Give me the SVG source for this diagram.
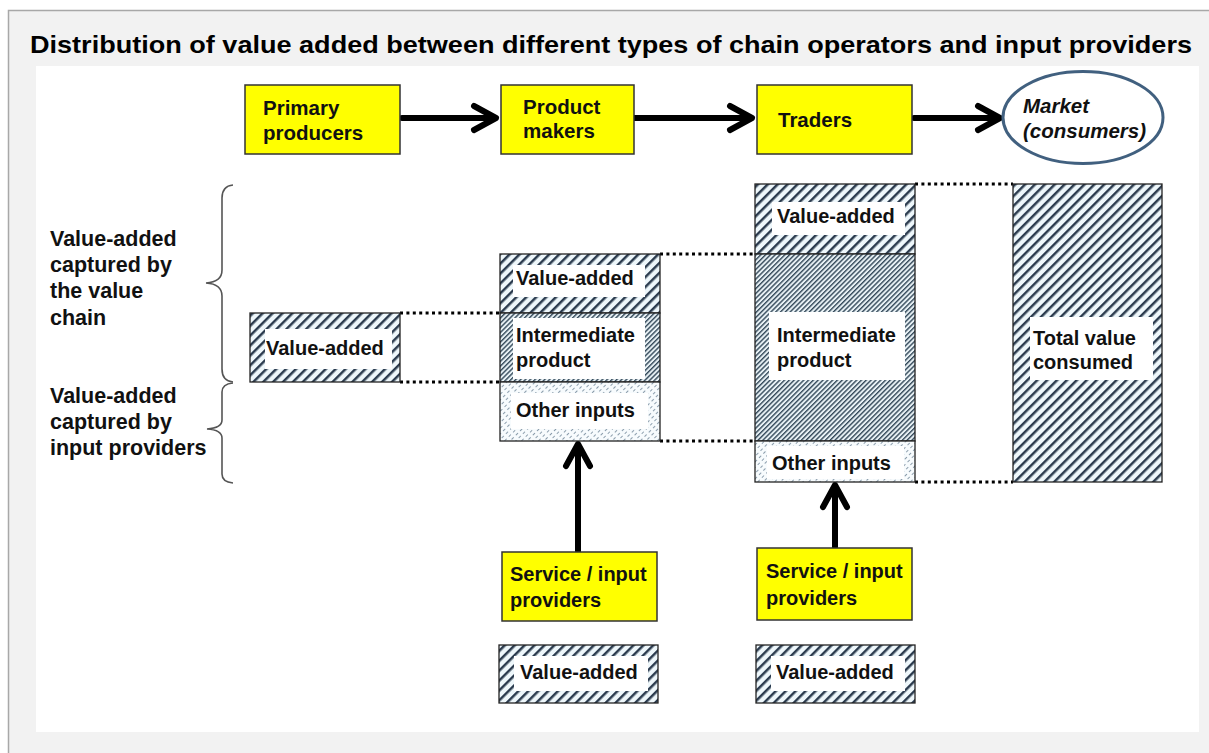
<svg xmlns="http://www.w3.org/2000/svg" width="1209" height="753" viewBox="0 0 1209 753">
<style>
.frame{fill:#f2f2f2;stroke:#a8a8a8;stroke-width:1.5}
.title{font-family:"Liberation Sans",Arial,sans-serif;font-weight:bold;font-size:24px;fill:#000}
.yel{fill:#ffff00;stroke:#333;stroke-width:1.5}
.hd{font-family:"Liberation Sans",Arial,sans-serif;font-weight:bold;font-size:20.5px;fill:#111}
.it{font-style:italic}
.lbl{font-family:"Liberation Sans",Arial,sans-serif;font-weight:bold;font-size:20px;fill:#111}
.side{font-family:"Liberation Sans",Arial,sans-serif;font-weight:bold;font-size:21.5px;fill:#111}
.box{stroke:#222;stroke-width:1.3}
.wide{fill:url(#hatchWide)}
.dense{fill:url(#hatchDense)}
.light{fill:url(#hatchLight)}
.inner{fill:#fff}
.dot{stroke:#000;stroke-width:3.2;stroke-dasharray:3 3.4;fill:none}
.arr{stroke:#000;stroke-width:6;fill:none;stroke-linecap:round;stroke-linejoin:round}
.brace{stroke:#555;stroke-width:1.6;fill:none}
</style>
<defs>
<pattern id="hatchWide" patternUnits="userSpaceOnUse" width="7" height="10" patternTransform="rotate(45)">
<rect width="7" height="10" fill="#eef7fb"/>
<rect x="0" y="0" width="2.5" height="10" fill="#2b3b4e"/>
</pattern>
<pattern id="hatchDense" patternUnits="userSpaceOnUse" width="3.4" height="10" patternTransform="rotate(45)">
<rect width="3.4" height="10" fill="#e8f1f5"/>
<rect x="0" y="0" width="1.4" height="10" fill="#34495a"/>
</pattern>
<pattern id="hatchLight" patternUnits="userSpaceOnUse" width="4" height="6" patternTransform="rotate(45)">
<rect width="4" height="6" fill="#f7fbfd"/>
<rect x="0" y="0" width="0.9" height="3" fill="#7f93a3"/>
</pattern>
</defs>

<rect class="frame" x="8.5" y="10.5" width="1212" height="760"/>
<rect x="36" y="66" width="1163" height="666" fill="#fff"/>
<text class="title" x="30" y="53" textLength="1162" lengthAdjust="spacingAndGlyphs">Distribution of value added between different types of chain operators and input providers</text>

<g id="connectors">
<path class="arr" d="M402,118 H495 M474,106 L496,118 L474,130"/>
<path class="arr" d="M634,118 H751 M730,106 L752,118 L730,130"/>
<path class="arr" d="M914,118 H999 M978,106 L1000,118 L978,130"/>
<path class="arr" d="M578,551 V445 M566,466 L578,444 L590,466"/>
<path class="arr" d="M835,547 V486 M823,507 L835,485 L847,507"/>
<path class="dot" d="M400,313 H500 M400,382 H500 M660,254 H755 M660,441 H755 M915,184 H1013 M915,482 H1013"/>
</g>

<g id="braces">
<path class="brace" d="M233,185 Q222,186 222,198 L222,270 Q222,282 206,283 Q222,284 222,296 L222,369 Q222,381 233,382"/>
<path class="brace" d="M233,383 Q222,384 222,392 L222,420 Q222,428 207,429 Q222,430 222,438 L222,474 Q222,482 233,483"/>
</g>
<g id="side-labels">
<text class="side" x="50" y="246">Value-added</text>
<text class="side" x="50" y="272">captured by</text>
<text class="side" x="50" y="298">the value</text>
<text class="side" x="50" y="325">chain</text>
<text class="side" x="50" y="403">Value-added</text>
<text class="side" x="50" y="429">captured by</text>
<text class="side" x="50" y="455">input providers</text>
</g>

<g id="primary-producers">
<rect class="yel" x="245" y="85" width="155" height="69"/>
<text class="hd" x="263" y="115">Primary</text>
<text class="hd" x="263" y="140">producers</text>
</g>
<g id="product-makers">
<rect class="yel" x="501" y="85" width="133" height="69"/>
<text class="hd" x="523" y="114">Product</text>
<text class="hd" x="523" y="138">makers</text>
</g>
<g id="traders">
<rect class="yel" x="757" y="85" width="155" height="69"/>
<text class="hd" x="778" y="127">Traders</text>
</g>
<g id="market">
<ellipse cx="1083" cy="117.5" rx="80" ry="46" fill="#fff" stroke="#41607f" stroke-width="3"/>
<text class="hd it" x="1023" y="113">Market</text>
<text class="hd it" x="1023" y="138">(consumers)</text>
</g>

<g id="primary-value-added">
<rect class="box wide" x="250" y="313" width="150" height="69"/>
<rect class="inner" x="265" y="329" width="127" height="40"/>
<text class="lbl" x="266" y="355">Value-added</text>
</g>

<g id="makers-column">
<rect class="box wide" x="500" y="254" width="160" height="59"/>
<rect class="inner" x="513" y="265" width="132" height="32"/>
<text class="lbl" x="516" y="285">Value-added</text>
<rect class="box dense" x="500" y="313" width="160" height="69"/>
<rect class="inner" x="513" y="318" width="132" height="61"/>
<text class="lbl" x="516" y="342">Intermediate</text>
<text class="lbl" x="516" y="367">product</text>
<rect class="box light" x="500" y="382" width="160" height="59"/>
<rect class="inner" x="511" y="393" width="137" height="36"/>
<text class="lbl" x="516" y="417">Other inputs</text>
</g>

<g id="traders-column">
<rect class="box wide" x="755" y="184" width="160" height="70"/>
<rect class="inner" x="772" y="202" width="133" height="33"/>
<text class="lbl" x="777" y="223">Value-added</text>
<rect class="box dense" x="755" y="254" width="160" height="187"/>
<rect class="inner" x="769" y="312" width="136" height="68"/>
<text class="lbl" x="777" y="342">Intermediate</text>
<text class="lbl" x="777" y="367">product</text>
<rect class="box light" x="755" y="441" width="160" height="41"/>
<rect class="inner" x="767" y="446" width="137" height="33"/>
<text class="lbl" x="772" y="470">Other inputs</text>
</g>

<g id="total-value-consumed">
<rect class="box wide" x="1013" y="184" width="149" height="298"/>
<rect class="inner" x="1030" y="317" width="123" height="63"/>
<text class="lbl" x="1033" y="345">Total value</text>
<text class="lbl" x="1033" y="369">consumed</text>
</g>

<g id="service-providers-1">
<rect class="yel" x="502" y="552" width="155" height="69"/>
<text class="lbl" x="510" y="581">Service / input</text>
<text class="lbl" x="510" y="607">providers</text>
</g>
<g id="service-providers-2">
<rect class="yel" x="757" y="548" width="155" height="72"/>
<text class="lbl" x="766" y="578">Service / input</text>
<text class="lbl" x="766" y="605">providers</text>
</g>

<g id="service-value-added-1">
<rect class="box wide" x="499" y="645" width="159" height="58"/>
<rect class="inner" x="514" y="656" width="134" height="35"/>
<text class="lbl" x="520" y="679">Value-added</text>
</g>
<g id="service-value-added-2">
<rect class="box wide" x="756" y="645" width="159" height="58"/>
<rect class="inner" x="771" y="656" width="134" height="35"/>
<text class="lbl" x="776" y="679">Value-added</text>
</g>
</svg>
